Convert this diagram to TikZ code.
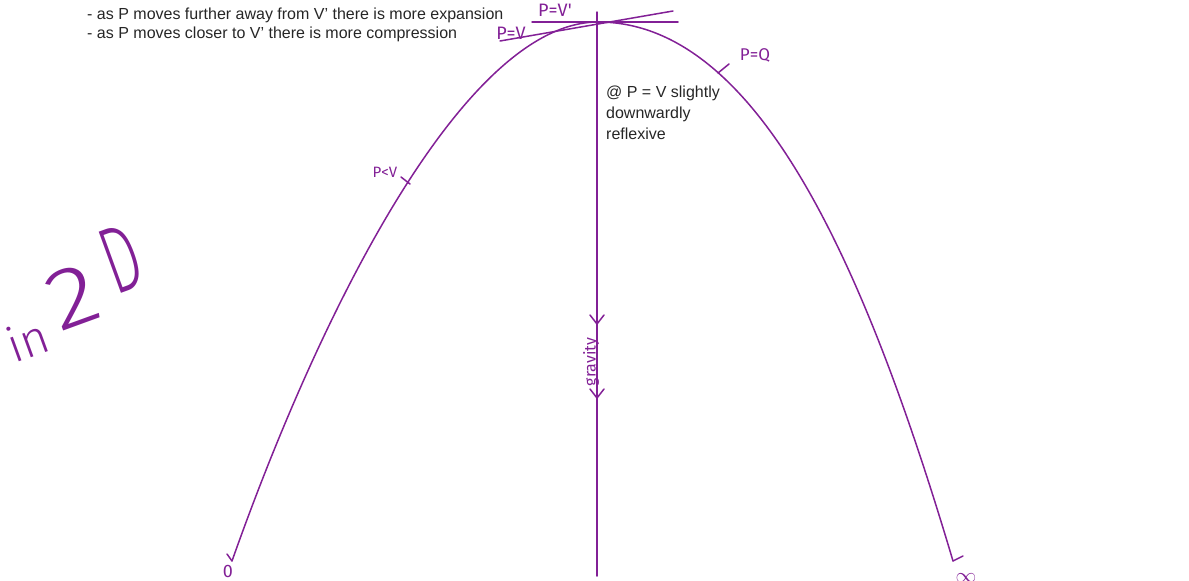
\documentclass[tikz,border=0pt]{standalone}
\usepackage{fontspec}
\setmainfont{Liberation Sans}
\newfontfamily\hand{Fira Sans Light}
\newfontfamily\handreg{Fira Sans}
\definecolor{pen}{RGB}{130,32,150}
\begin{document}
\begin{tikzpicture}[x=1pt,y=-1pt,
  penline/.style={draw=pen, line width=1.5pt, line cap=round, line join=round},
  ink/.style={text=pen, inner sep=0pt},
  note/.style={text=black!85, inner sep=0pt, font=\fontsize{16}{21}\selectfont, align=left}]
\useasboundingbox (0,0) rectangle (1189,581);
% notes
\node[note, anchor=base west] (n1) at (87,19.5) {- as P moves further away from V’ there is more expansion};
\node[note, anchor=base west] (n2) at (87,38.5) {- as P moves closer to V’ there is more compression};
\node[note, anchor=north west] (n3) at (606,86) {@ P = V slightly\\downwardly\\reflexive};
% curve
\coordinate (L) at (232,561);
\coordinate (apex) at (598,22);
\coordinate (R) at (953,561);
\draw[penline] (L) .. controls (325,298) and (468,22) .. (apex) .. controls (758,22) and (865,265) .. (R);
% vertical axis
\coordinate (vtop) at (597,12);
\coordinate (vbot) at (597,576);
\draw[penline] (vtop) -- (vbot);
\draw[penline] (590,315) -- (597,324) -- (604,315);
\draw[penline] (590,389) -- (597,398) -- (604,389);
% tangents at apex
\coordinate (h1) at (532,22); \coordinate (h2) at (678,22);
\draw[penline] (h1) -- (h2);
\coordinate (s1) at (500,41); \coordinate (s2) at (673,11);
\draw[penline] (s1) -- (s2);
% ticks
\draw[penline] (401,177) -- (410,184);
\draw[penline] (718,73) -- (729,64);
\draw[penline] (227,554) -- (L);
\draw[penline] (R) -- (963,556);
% handwritten labels
\node[ink, font=\handreg\fontsize{18}{18}\selectfont] (pv1) at (555,10) {P=V'};
\node[ink, font=\handreg\fontsize{18}{18}\selectfont] (pv) at (511,33) {P=V};
\node[ink, font=\handreg\fontsize{17}{17}\selectfont] (pq) at (755,55) {P=Q};
\node[ink, font=\handreg\fontsize{15}{15}\selectfont] (plv) at (385,172) {P<V};
\node[ink, font=\handreg\fontsize{18}{18}\selectfont] (zero) at (228,571) {0};
\node[ink, font=\fontsize{22}{22}\selectfont] (inf) at (966,578) {$\infty$};
\node[ink, font=\handreg\fontsize{16}{16}\selectfont, rotate=90] (grav) at (591,362) {gravity};
\node[ink, font=\hand, rotate=20, anchor=base west] (in2d) at (14,364)
  {{\fontsize{48}{48}\selectfont in}\hspace{12pt}\raisebox{14pt}{\fontsize{86}{86}\selectfont\scalebox{1.2}[1]{2}}\hspace{16pt}\raisebox{30pt}{\fontsize{95}{95}\selectfont\scalebox{0.6}[1]{D}}};
\end{tikzpicture}
\end{document}
